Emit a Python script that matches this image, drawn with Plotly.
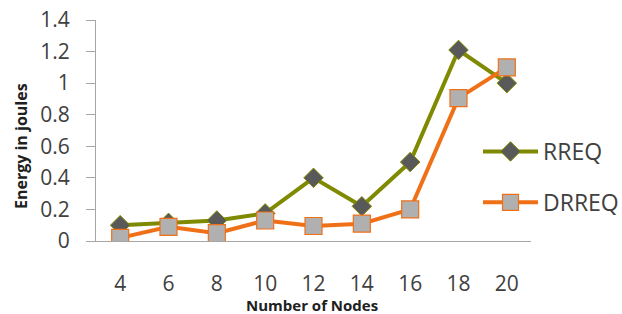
import plotly.graph_objects as go

nodes = ["4", "6", "8", "10", "12", "14", "16", "18", "20"]
rreq = [0.10, 0.115, 0.13, 0.175, 0.40, 0.22, 0.50, 1.21, 1.00]
drreq = [0.02, 0.09, 0.05, 0.13, 0.095, 0.11, 0.20, 0.905, 1.10]
y_ticks = [0, 0.2, 0.4, 0.6, 0.8, 1, 1.2, 1.4]
y_tick_text = ["0", "0.2", "0.4", "0.6", "0.8", "1", "1.2", "1.4"]

font_family = "Open Sans, Liberation Sans, sans-serif"
W, H = 622, 314
ML, MR, MT, MB = 96, 91, 20, 73

fig = go.Figure()
fig.add_trace(go.Scatter(
    x=nodes, y=rreq, name="RREQ", mode="lines+markers", legendgroup="a",
    line=dict(color="#7F8A00", width=4),
    marker=dict(symbol="diamond", size=15, color="#595959",
                line=dict(color="#7F8A00", width=1)),
))
fig.add_trace(go.Scatter(
    x=nodes, y=drreq, name="DRREQ", mode="lines+markers", legendgroup="b",
    line=dict(color="#F07018", width=4),
    marker=dict(symbol="square", size=17, color="#B0B0B0",
                line=dict(color="#F07018", width=1.2)),
))

pw = W - ML - MR
ph = H - MT - MB

fig.update_layout(
    width=W, height=H,
    margin=dict(l=ML, r=MR, t=MT, b=MB, autoexpand=False),
    paper_bgcolor="white", plot_bgcolor="white",
    font=dict(family=font_family, color="#404040"),
    showlegend=True,
    legend=dict(x=(478 - ML) / pw, y=(H - MB - 177) / ph, xanchor="left", yanchor="middle",
                font=dict(size=23, color="#404040"), itemwidth=55,
                tracegroupgap=18, bgcolor="rgba(0,0,0,0)"),
    xaxis=dict(
        type="category", range=[-0.5, len(nodes) - 0.5],
        showgrid=False, showline=True, linecolor="#A6A6A6",
        linewidth=1, ticks="", tickfont=dict(size=21, color="#404040"),
        ticklabelstandoff=24, automargin=False,
    ),
    yaxis=dict(
        range=[0, 1.4], tickvals=y_ticks, ticktext=y_tick_text,
        showgrid=False, zeroline=False, showline=True, linecolor="#A6A6A6",
        linewidth=1, ticks="outside", ticklen=9, tickcolor="#A6A6A6",
        tickfont=dict(size=21, color="#404040"), ticklabelstandoff=12,
        automargin=False,
    ),
    annotations=[
        dict(text="<b>Energy in joules</b>", xref="paper", yref="paper",
             x=(21 - ML) / pw, y=(H - MB - 146) / ph, xanchor="center", yanchor="middle",
             textangle=-90, showarrow=False, font=dict(size=16, color="#202020")),
        dict(text="<b>Number of Nodes</b>", xref="paper", yref="paper",
             x=(312 - ML) / pw, y=(H - MB - 305) / ph, xanchor="center", yanchor="middle",
             showarrow=False, font=dict(size=15, color="#202020")),
    ],
)

fig.write_html("out.html", config={"displayModeBar": False},
               post_script="document.body.style.margin='0';document.body.style.overflow='hidden';")
